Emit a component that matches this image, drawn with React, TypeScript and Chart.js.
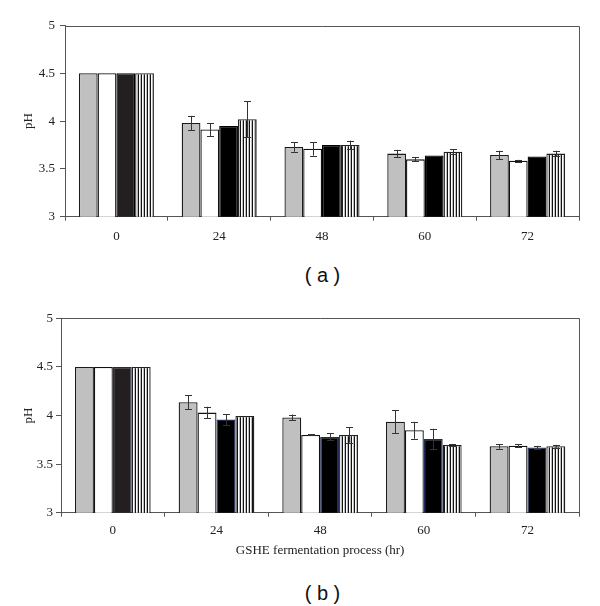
import React, { useEffect, useRef } from 'react';
import { Chart, registerables } from 'chart.js';
Chart.register(...registerables);

const categories = ['0', '24', '48', '60', '72'];
const seriesNames = ['Series 1', 'Series 2', 'Series 3', 'Series 4'];

// Panel (a)
const aGray = [4.5, 3.98, 3.73, 3.66, 3.645];
const aWhite = [4.5, 3.913, 3.71, 3.6, 3.585];
const aBlack = [4.5, 3.95, 3.75, 3.64, 3.63];
const aStriped = [4.5, 4.02, 3.75, 3.68, 3.66];
const aGrayErr = [0, 0.075, 0.05, 0.04, 0.045];
const aWhiteErr = [0, 0.068, 0.07, 0.02, 0.01];
const aBlackErr = [0, 0, 0, 0, 0];
const aStripedErr = [0, 0.19, 0.045, 0.025, 0.03];

// Panel (b)
const bGray = [4.5, 4.136, 3.98, 3.936, 3.683];
const bWhite = [4.5, 4.03, 3.8, 3.848, 3.69];
const bBlack = [4.5, 3.958, 3.78, 3.758, 3.672];
const bStriped = [4.5, 3.995, 3.8, 3.697, 3.683];
const bGrayErr = [0, 0.07, 0.03, 0.12, 0.024];
const bWhiteErr = [0, 0.06, 0.005, 0.087, 0.015];
const bBlackErr = [0, 0.057, 0.035, 0.105, 0.015];
const bStripedErr = [0, 0, 0.08, 0.01, 0.015];

const yMin = 3;
const yMax = 5;
const yStep = 0.5;

const FONT = 'Liberation Serif';

function makeStripe(): CanvasPattern | string {
  const c = document.createElement('canvas');
  c.width = 3;
  c.height = 4;
  const g = c.getContext('2d');
  if (!g) return '#888';
  g.fillStyle = '#ffffff';
  g.fillRect(0, 0, 3, 4);
  g.fillStyle = '#111111';
  g.fillRect(0, 0, 1, 4);
  g.fillStyle = '#bdbdbd';
  g.fillRect(2, 0, 1, 4);
  const p = g.createPattern(c, 'repeat');
  return p || '#888';
}

const frameAndErrors = {
  id: 'frameAndErrors',
  afterDatasetsDraw(chart: any) {
    const { ctx, chartArea } = chart;
    const errs: number[][] = chart.options.plugins.frameAndErrors.errors;
    const y = chart.scales.y;
    ctx.save();
    ctx.strokeStyle = '#333';
    ctx.lineWidth = 1;
    chart.data.datasets.forEach((ds: any, di: number) => {
      const meta = chart.getDatasetMeta(di);
      meta.data.forEach((bar: any, i: number) => {
        const e = errs[di][i];
        if (!e) return;
        const v = ds.data[i];
        const x = Math.round(bar.x) + 0.5;
        const y1 = y.getPixelForValue(v + e);
        const y2 = y.getPixelForValue(v - e);
        ctx.beginPath();
        ctx.moveTo(x, y1);
        ctx.lineTo(x, y2);
        ctx.moveTo(x - 3.5, Math.round(y1) + 0.5);
        ctx.lineTo(x + 3.5, Math.round(y1) + 0.5);
        ctx.moveTo(x - 3.5, Math.round(y2) + 0.5);
        ctx.lineTo(x + 3.5, Math.round(y2) + 0.5);
        ctx.stroke();
      });
    });
    // frame top and right
    ctx.strokeStyle = '#555';
    ctx.beginPath();
    const r = Math.round(chartArea.right) + 0.5;
    const t = Math.round(chartArea.top) + 0.5;
    ctx.moveTo(chartArea.left, t);
    ctx.lineTo(r, t);
    ctx.lineTo(r, chartArea.bottom);
    ctx.stroke();
    ctx.restore();
  },
};

type PanelProps = {
  height: number;
  values: number[][];
  errors: number[][];
  padTop: number;
  padRight: number;
  yWidth: number;
  xHeight: number;
  xPad: number;
  yPad: number;
  xTitle?: string;
  blackBorder: string;
};

function Panel(props: PanelProps) {
  const ref = useRef<HTMLCanvasElement | null>(null);
  useEffect(() => {
    if (!ref.current) return;
    const stripe = makeStripe();
    const fills: any[] = [
      '#c0c0c0',
      '#ffffff',
      ['#231f20', '#000000', '#000000', '#000000', '#000000'],
      stripe,
    ];
    const borders = ['#1a1a1a', '#111111', props.blackBorder, '#222222'];
    const chart = new Chart(ref.current, {
      type: 'bar',
      data: {
        labels: categories,
        datasets: props.values.map((vals, i) => ({
          label: seriesNames[i],
          data: vals,
          backgroundColor: fills[i],
          borderColor: borders[i],
          borderWidth: 1.3,
          categoryPercentage: 0.73,
          barPercentage: 1,
        })),
      },
      options: {
        responsive: false,
        animation: false,
        devicePixelRatio: 1,
        layout: { padding: { top: props.padTop, right: props.padRight, left: 0, bottom: 0 } },
        plugins: {
          legend: { display: false },
          tooltip: { enabled: false },
          frameAndErrors: { errors: props.errors },
        } as any,
        scales: {
          x: {
            grid: { drawOnChartArea: false, drawTicks: true, tickLength: 4, color: '#555', offset: true },
            border: { display: true, color: '#555' },
            ticks: { color: '#222', font: { family: FONT, size: 13 }, padding: props.xPad },
            title: props.xTitle
              ? { display: true, text: props.xTitle, color: '#222', font: { family: FONT, size: 13 }, padding: { top: 0, bottom: 12 } }
              : { display: false },
            afterFit: (s: any) => {
              s.height = props.xHeight;
            },
          },
          y: {
            min: yMin,
            max: yMax,
            ticks: {
              stepSize: yStep,
              color: '#222',
              font: { family: FONT, size: 13 },
              padding: props.yPad,
              callback: (v: any) => String(v),
            },
            grid: { drawOnChartArea: false, drawTicks: true, tickLength: 5, color: '#555' },
            border: { display: true, color: '#555' },
            title: { display: true, text: 'pH', color: '#222', font: { family: FONT, size: 13 }, padding: { top: 21, bottom: 0 } },
            afterFit: (s: any) => {
              s.width = props.yWidth;
            },
          },
        },
      } as any,
      plugins: [frameAndErrors],
    });
    return () => chart.destroy();
  }, []);
  return <canvas ref={ref} width={600} height={props.height} style={{ display: 'block', width: 600, height: props.height }} />;
}

const labelStyle: React.CSSProperties = {
  position: 'absolute',
  left: 0,
  width: 645,
  textAlign: 'center',
  fontFamily: 'Liberation Sans',
  fontSize: 20,
  lineHeight: '24px',
  color: '#111',
  whiteSpace: 'pre',
};

export default function App() {
  return (
    <div style={{ position: 'absolute', left: 0, top: 0, width: 600, height: 606, background: '#fff', overflow: 'hidden' }}>
      <div style={{ position: 'absolute', left: 0, top: 0 }}>
        <Panel
          height={250}
          values={[aGray, aWhite, aBlack, aStriped]}
          errors={[aGrayErr, aWhiteErr, aBlackErr, aStripedErr]}
          padTop={25.5}
          padRight={21}
          yWidth={65}
          xHeight={33.3}
          xPad={8}
          yPad={5}
          blackBorder="#000000"
        />
      </div>
      <div style={{ ...labelStyle, top: 263 }}>( a )</div>
      <div style={{ position: 'absolute', left: 0, top: 290 }}>
        <Panel
          height={280}
          values={[bGray, bWhite, bBlack, bStriped]}
          errors={[bGrayErr, bWhiteErr, bBlackErr, bStripedErr]}
          padTop={28.3}
          padRight={20.7}
          yWidth={61}
          xHeight={57.3}
          xPad={6}
          yPad={3}
          xTitle="GSHE fermentation process (hr)"
          blackBorder="#1f2a55"
        />
      </div>
      <div style={{ ...labelStyle, top: 581 }}>( b )</div>
    </div>
  );
}
